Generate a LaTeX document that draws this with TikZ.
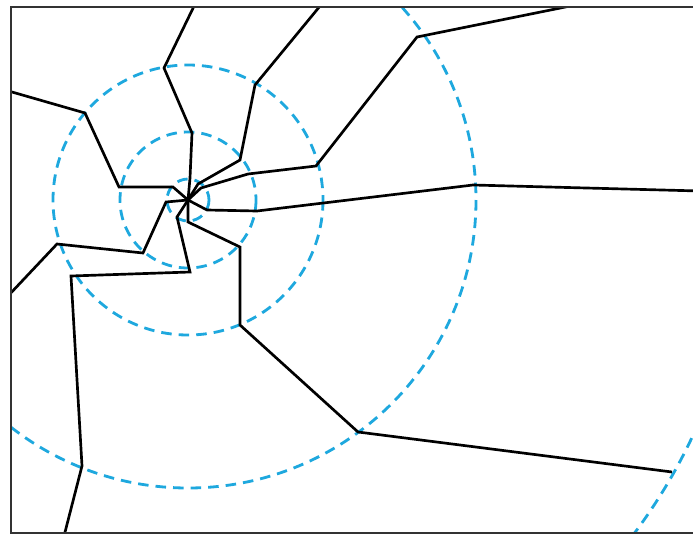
\documentclass[tikz,border=0pt]{standalone}
\usepackage{tikz}

\definecolor{ringblue}{RGB}{30,168,222}

\tikzset{
  ring/.style={ringblue, line width=4pt, dash pattern=on 15pt off 10pt},
  spoke/.style={black, line width=3.8pt, line join=miter},
  frame/.style={black!80, line width=3.6pt}
}

\begin{document}
\begin{tikzpicture}[x=0.05cm, y=-0.05cm]
  \useasboundingbox (0,0) rectangle (693,535);
  \coordinate (centre) at (188,200);

  \begin{scope}
    \clip (11,7) rectangle (693,533);
    % Vòng tròn đứt nét quanh tâm
    \foreach \r in {21,68,135,288,557} {
      \draw[ring] (centre) circle[radius=\r];
    }

    % Các nhánh gấp khúc đi ra từ tâm
    \draw[spoke] (centre) -- (190,178) -- (192,133) -- (164,68) -- (197,0);
    \draw[spoke] (centre) -- (198,184) -- (240,160) -- (255,85) -- (325,0);
    \draw[spoke] (centre) -- (201,188) -- (248,174) -- (316,166) -- (417,37) -- (600,0);
    \draw[spoke] (centre) -- (207,210) -- (257,211) -- (473,185) -- (700,191);
    \draw[spoke] (centre) -- (188,222) -- (240,247) -- (240,325) -- (358,432) -- (672,472);
    \draw[spoke] (centre) -- (177,217) -- (190,272) -- (71,276) -- (82,466) -- (63,540);
    \draw[spoke] (centre) -- (166,202) -- (143,253) -- (57,244) -- (8,296);
    \draw[spoke] (centre) -- (173,187) -- (119,187) -- (85,113) -- (5,90);
  \end{scope}

  % Khung ngoài
  \draw[frame] (693,7) -- (11,7) -- (11,533) -- (693,533);
\end{tikzpicture}
\end{document}
